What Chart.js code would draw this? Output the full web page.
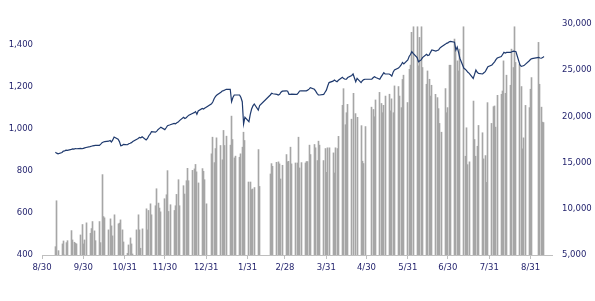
<!DOCTYPE html>
<html>
<head>
<meta charset="utf-8">
<script src="https://cdn.jsdelivr.net/npm/chart.js@4.4.1/dist/chart.umd.min.js"></script>
<style>
  html, body { margin: 0; padding: 0; background: #ffffff; }
  #wrap { width: 595px; height: 301px; position: relative; }
</style>
</head>
<body>
<div id="wrap"><canvas id="c" width="595" height="301"></canvas></div>
<script>
// ---- Calendar (categories) ----
const axisStart = '2020-08-30';
const axisEnd = '2021-09-16';
const firstDay = '2020-09-09';
const lastDay = '2021-09-10';
const holidays = ['2021-01-01', '2021-02-10', '2021-02-11', '2021-02-12', '2021-02-15', '2021-02-16',
                  '2021-04-21', '2021-04-30', '2021-05-03', '2021-09-02', '2021-09-03'];
const tickDates = ['2020-08-30', '2020-09-30', '2020-10-31', '2020-11-30', '2020-12-31', '2021-01-31',
                   '2021-02-28', '2021-03-31', '2021-04-30', '2021-05-31', '2021-06-30', '2021-07-31', '2021-08-31'];
const tickLabels = ['8/30', '9/30', '10/31', '11/30', '12/31', '1/31', '2/28', '3/31', '4/30', '5/31', '6/30', '7/31', '8/31'];

// ---- Index level (left axis), one value per trading day, by month ----
const index2020Sep = [889, 885, 882, 888, 895, 896, 899, 898, 903, 905, 904, 907, 906, 908, 906, 908];
const index2020Oct = [910, 912, 916, 918, 920, 921, 922, 922, 928, 935, 938, 940, 942, 945, 938, 948, 962, 951, 940, 920, 922, 927];
const index2020Nov = [925, 930, 932, 935, 940, 951, 955, 960, 958, 963, 948, 955, 968, 975, 987, 985, 990, 998, 1003, 1008, 997];
const index2020Dec = [1006, 1016, 1018, 1020, 1027, 1025, 1030, 1033, 1040, 1056, 1050, 1054, 1060, 1066, 1075, 1078, 1083, 1070, 1086, 1098, 1095, 1100, 1104];
const index2021Jan = [1120, 1130, 1145, 1155, 1162, 1175, 1181, 1183, 1186, 1189, 1189, 1130, 1150, 1162, 1162, 1162, 1150, 1130, 1024, 1056];
const index2021Feb = [1035, 1070, 1095, 1110, 1119, 1090, 1111, 1162, 1170, 1168, 1165, 1162, 1165, 1175, 1180];
const index2021Mar = [1182, 1180, 1165, 1165, 1166, 1165, 1165, 1172, 1181, 1182, 1182, 1182, 1185, 1190, 1197, 1189, 1180, 1170, 1162, 1162, 1165, 1175, 1185];
const index2021Apr = [1205, 1221, 1228, 1233, 1229, 1225, 1232, 1246, 1240, 1237, 1237, 1245, 1255, 1262, 1225, 1241, 1221, 1230, 1235, 1237];
const index2021May = [1237, 1244, 1249, 1245, 1237, 1248, 1258, 1268, 1262, 1262, 1258, 1252, 1270, 1281, 1290, 1297, 1305, 1317, 1310, 1329];
const index2021Jun = [1345, 1355, 1368, 1360, 1340, 1320, 1325, 1329, 1340, 1356, 1350, 1352, 1365, 1376, 1371, 1374, 1376, 1385, 1390, 1403, 1408, 1410];
const index2021Jul = [1415, 1417, 1413, 1376, 1390, 1365, 1337, 1289, 1285, 1278, 1270, 1265, 1241, 1260, 1281, 1270, 1265, 1262, 1268, 1273, 1285, 1297];
const index2021Aug = [1305, 1313, 1320, 1330, 1338, 1345, 1355, 1365, 1362, 1365, 1365, 1368, 1371, 1370, 1368, 1305, 1298, 1300, 1302, 1308, 1325, 1332];
const index2021Sep = [1335, 1341, 1338, 1337, 1340, 1345];

// ---- Trading value (right axis), one value per trading day, by month ----
const value2020Sep = [5900, 10870, 5470, 6200, 6520, 4800, 6340, 6550, 7640, 6630, 6380, 6270, 6200, 7170, 8300, 6200];
const value2020Oct = [6630, 8480, 7350, 7860, 8620, 7610, 6550, 8620, 6340, 13700, 9160, 9020, 7720, 8910, 8150, 7070, 9350, 8370, 8450, 8800, 7720, 6410];
const value2020Nov = [5180, 6090, 6850, 6200, 5110, 7720, 9350, 7720, 5730, 7830, 10000, 7720, 9820, 10540, 9350, 10330, 12170, 10620, 10080, 9670, 11090];
const value2020Dec = [11520, 14130, 9710, 10440, 9820, 10330, 11560, 13150, 10330, 12500, 11600, 13040, 14380, 13040, 14160, 14320, 14800, 14000, 12800, 14350, 14060, 13150, 10540];
const value2021Jan = [15950, 17750, 15000, 16520, 17680, 16850, 15300, 18480, 16850, 17860, 16890, 20030, 17500, 15510, 15700, 15580, 15950, 16670, 18290, 17390];
const value2021Feb = [12900, 12900, 12070, 12140, 12300, 16410, 12420, 13770, 14890, 14600, 15030, 15080, 14860, 13230, 14710];
const value2021Mar = [15870, 15080, 15140, 16670, 14860, 14960, 14960, 17750, 14420, 15000, 14960, 15110, 15110, 16890, 15870, 16960, 16600, 15220, 17320, 16890, 15220, 16520, 13950];
const value2021Apr = [16600, 16600, 16050, 13880, 16600, 16520, 17840, 21200, 23000, 19100, 20400, 21300, 19700, 22500, 20300, 19900, 19000, 15150, 14900, 18900];
const value2021May = [21000, 20750, 19960, 21780, 22600, 21400, 20400, 21200, 22200, 22400, 20600, 21900, 20400, 23300, 23230, 22200, 20950, 24000, 24460, 21500];
const value2021Jun = [25100, 25550, 29100, 29700, 29700, 25470, 28550, 29700, 25290, 23480, 24920, 24020, 22200, 23370, 22390, 22030, 20840, 19240, 18290, 23010, 20400, 20950];
const value2021Jul = [25540, 25540, 28370, 27280, 26010, 24920, 27280, 29700, 15690, 18770, 14780, 15080, 21660, 17500, 15690, 16770, 19020, 18230, 15400, 15760, 12860, 21490];
const value2021Aug = [19240, 21050, 21130, 18840, 22280, 22390, 22750, 26010, 22500, 24460, 23370, 27280, 25290, 29700, 25840, 25650, 23230, 16490, 17680, 21190, 20950, 22940];
const value2021Sep = [24200, 28010, 23480, 21000, 19380, 19330];

// ---- Build ----
const DAY = 86400000;
function toUTC(s) { const p = s.split('-').map(Number); return Date.UTC(p[0], p[1] - 1, p[2]); }
const origin = toUTC(axisStart);
function dayNum(s) { return Math.round((toUTC(s) - origin) / DAY); }

const holidaySet = new Set(holidays);
const tradingDays = [];
for (let t = toUTC(firstDay); t <= toUTC(lastDay); t += DAY) {
  const d = new Date(t);
  const wd = d.getUTCDay();
  const iso = d.toISOString().slice(0, 10);
  if (wd === 0 || wd === 6 || holidaySet.has(iso)) continue;
  tradingDays.push(Math.round((t - origin) / DAY));
}

const indexValues = [].concat(index2020Sep, index2020Oct, index2020Nov, index2020Dec, index2021Jan, index2021Feb,
  index2021Mar, index2021Apr, index2021May, index2021Jun, index2021Jul, index2021Aug, index2021Sep);
const tradeValues = [].concat(value2020Sep, value2020Oct, value2020Nov, value2020Dec, value2021Jan, value2021Feb,
  value2021Mar, value2021Apr, value2021May, value2021Jun, value2021Jul, value2021Aug, value2021Sep);

const n = Math.min(tradingDays.length, indexValues.length, tradeValues.length);
const lineData = [], barData = [];
for (let i = 0; i < n; i++) {
  lineData.push({ x: tradingDays[i], y: indexValues[i] });
  barData.push({ x: tradingDays[i], y: tradeValues[i] });
}

const tickDays = tickDates.map(dayNum);
const labelByDay = {};
tickDays.forEach((d, i) => { labelByDay[d] = tickLabels[i]; });

const textColor = '#1f1f6b';
const tickFont = { family: 'DejaVu Sans', size: 8.5 };
const fmt = v => Number(v).toLocaleString('en-US');

// Clip all series to the plot area and align thin bars to whole pixels.
const plotClip = {
  id: 'plotClip',
  beforeDatasetsDraw(chart) {
    chart.data.datasets.forEach((ds, i) => {
      if (ds.type !== 'bar') return;
      chart.getDatasetMeta(i).data.forEach(el => { el.x = Math.floor(el.x) + 0.5; });
    });
    const a = chart.chartArea, ctx = chart.ctx;
    ctx.save();
    ctx.beginPath();
    ctx.rect(a.left, a.top, a.right - a.left, a.bottom - a.top);
    ctx.clip();
  },
  afterDatasetsDraw(chart) {
    chart.ctx.restore();
  }
};

new Chart(document.getElementById('c').getContext('2d'), {
  data: {
    datasets: [
      {
        type: 'line', label: 'Index', data: lineData, xAxisID: 'x', yAxisID: 'y',
        borderColor: '#1f3a6e', borderWidth: 1.2, pointRadius: 0, tension: 0, fill: false, order: 0
      },
      {
        type: 'bar', label: 'Trading value', data: barData, xAxisID: 'x', yAxisID: 'y1',
        backgroundColor: '#a6a6a6', borderWidth: 0, barThickness: 1, order: 1, base: 5000
      }
    ]
  },
  plugins: [plotClip],
  options: {
    responsive: false,
    animation: false,
    layout: { padding: { top: 24, left: 0, right: 0, bottom: 0 } },
    plugins: { legend: { display: false }, tooltip: { enabled: false } },
    scales: {
      x: {
        type: 'linear', position: 'bottom', offset: false,
        min: 0, max: dayNum(axisEnd),
        afterBuildTicks: (axis) => { axis.ticks = tickDays.map(v => ({ value: v })); },
        ticks: {
          autoSkip: false, maxRotation: 0, minRotation: 0, padding: 4,
          color: textColor, font: tickFont,
          callback: (v) => labelByDay[v] || ''
        },
        grid: { drawOnChartArea: false, drawTicks: true, tickLength: 4, color: '#bfbfbf', offset: false },
        border: { display: true, color: '#bfbfbf', width: 1 },
        afterFit: (s) => { s.height = 46; }
      },
      y: {
        position: 'left', min: 400, max: 1500,
        ticks: { stepSize: 200, includeBounds: false, padding: 9, color: textColor, font: tickFont, callback: fmt },
        grid: { display: false, drawTicks: false },
        border: { display: false },
        afterFit: (s) => { s.width = 42; }
      },
      y1: {
        position: 'right', min: 5000, max: 30000,
        ticks: { stepSize: 5000, includeBounds: false, padding: 10, color: textColor, font: tickFont, callback: fmt },
        grid: { display: false, drawTicks: false },
        border: { display: false },
        afterFit: (s) => { s.width = 43; }
      }
    }
  }
});
</script>
</body>
</html>
